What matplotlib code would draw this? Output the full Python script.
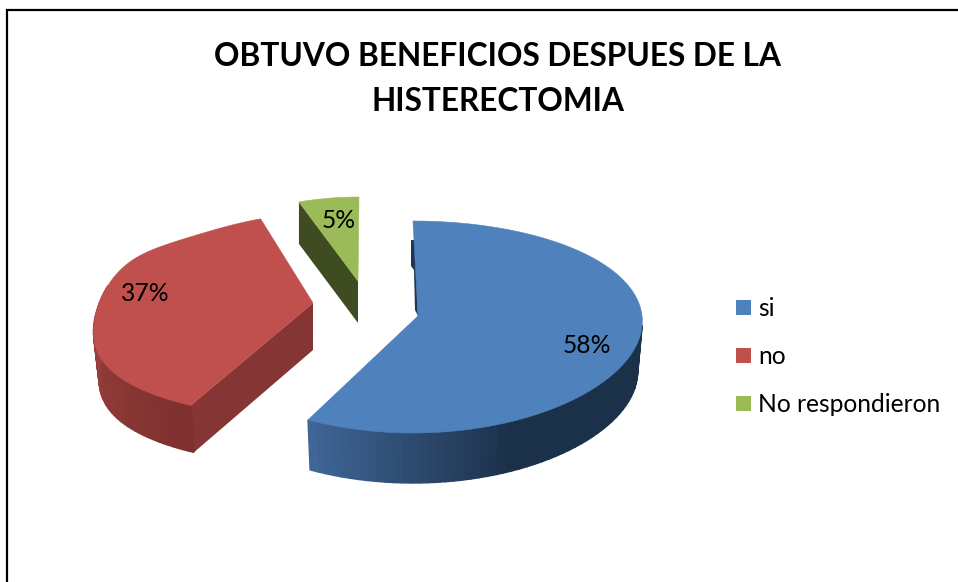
import numpy as np
import matplotlib
matplotlib.use("Agg")
import matplotlib.pyplot as plt
from matplotlib.colors import to_rgb
from matplotlib.patches import Polygon, Rectangle

title = "OBTUVO BENEFICIOS DESPUES DE LA\nHISTERECTOMIA"
categories = ["si", "no", "No respondieron"]
values = [58, 37, 5]

top_colors = ["#4F81BD", "#C0504D", "#9BBB59"]
inner_colors = ["#1F3552", "#853533", "#3F4C22"]
wall_light = ["#41689A", "#A04441", "#5A6E30"]
wall_dark = ["#1B3049", "#7E302E", "#3F4C22"]

apex = [(418, 316), (313, 303), (358, 281)]
center_x = [413, 314, 359]
rx = [229, 216, 240]
persp = [-0.055, 0.21, 0.2]
ry = [106, 102, 100]
dy = [11, 13, 16]
shoulder = [0, 16, 0]
depth = [50, 47, 42]
bottom_scale = [0.98, 0.975, 1.0]
label_frac = [0.76, 0.78, 0.55]
label_nudge = [(0, -2), (0, -15), (1, -22)]

W, H = 958, 582
plt.rcParams["font.family"] = ["Lato", "DejaVu Sans"]
fig = plt.figure(figsize=(W / 100, H / 100), dpi=100, facecolor="white")
ax = fig.add_axes([0, 0, 1, 1])
ax.set_xlim(0, W)
ax.set_ylim(H, 0)
ax.axis("off")

# chart frame: only the left and top edges are inside the crop
ax.plot([7, 7, W], [H, 10, 10], color="black", lw=1.6, solid_joinstyle="miter")

ax.text(498, 79, title, ha="center", va="center", fontsize=22.8,
        fontweight="bold", color="black", linespacing=1.65)


def arc(i, th):
    s, c = np.sin(th), np.cos(th)
    x = center_x[i] + rx[i] * s * (1 - persp[i] * c)
    bump = shoulder[i] * np.exp(-((np.degrees(th) - 288) / 25) ** 2)
    y = apex[i][1] + dy[i] - ry[i] * c - bump
    return x, y


def lerp(a, b, t):
    ca, cb = np.array(to_rgb(a)), np.array(to_rgb(b))
    return tuple(ca + (cb - ca) * t)


def low(i, px):
    return center_x[i] + (px - center_x[i]) * bottom_scale[i]


cum = np.cumsum([0] + values) / sum(values) * 2 * np.pi
for i in [2, 1, 0]:
    th = np.linspace(cum[i], cum[i + 1], 90)
    x, y = arc(i, th)
    ap = apex[i]
    d = depth[i]

    if i == 0:
        # thin sliver of the hidden cut face, left of the blue top face
        ax.add_patch(Polygon([(411, 240), (416, 240), (418, 316), (415, 310),
                              (414, 270), (411, 266)],
                             closed=True, fc=inner_colors[0], ec="none", zorder=2))
    else:
        # flat cut face in front of the exploded slice
        ax.add_patch(Polygon([(x[0], y[0]), ap, (low(i, ap[0]), ap[1] + d),
                              (low(i, x[0]), y[0] + d)],
                             closed=True, fc=inner_colors[i], ec="none", zorder=2))

    # curved outer wall, built of strips
    for j in range(len(th) - 1):
        if i == 2:
            continue
        if i == 1 and np.cos(th[j]) > 0.15:
            continue
        if i == 0:
            if np.cos(th[j]) > 0.05:
                continue
            t = np.clip((cum[1] - th[j]) / (0.48 * (cum[1] - np.pi / 2)), 0, 1)
            col = lerp(wall_light[0], wall_dark[0], t)
        else:
            t = np.clip((th[j] - cum[1]) / (3 * np.pi / 2 + 0.15 - cum[1]), 0, 1)
            col = lerp(wall_dark[1], wall_light[1], t)
        ax.add_patch(Polygon([(x[j], y[j]), (x[j + 1], y[j + 1]),
                              (low(i, x[j + 1]), y[j + 1] + d), (low(i, x[j]), y[j] + d)],
                             closed=True, fc=col, ec=col, lw=1.0, zorder=3))

    # top face
    ax.add_patch(Polygon(np.vstack([[ap], np.column_stack([x, y])]), closed=True,
                         fc=top_colors[i], ec=top_colors[i], lw=0.4, zorder=5))

    # data label
    mid = (cum[i] + cum[i + 1]) / 2
    lx = ap[0] + rx[i] * label_frac[i] * np.sin(mid)
    ly = ap[1] + dy[i] - ry[i] * label_frac[i] * np.cos(mid)
    ax.text(lx + label_nudge[i][0], ly + label_nudge[i][1], f"{values[i]}%",
            ha="center", va="center", fontsize=17.7, color="black", zorder=6)

for k, (name, col) in enumerate(zip(categories, top_colors)):
    yy = 308 + 48 * k
    ax.add_patch(Rectangle((736, yy - 8), 15, 15, fc=col, ec="none"))
    ax.text(758, yy, name, ha="left", va="center", fontsize=17.7, color="black")

fig.savefig("out.png", dpi=100, facecolor="white")
